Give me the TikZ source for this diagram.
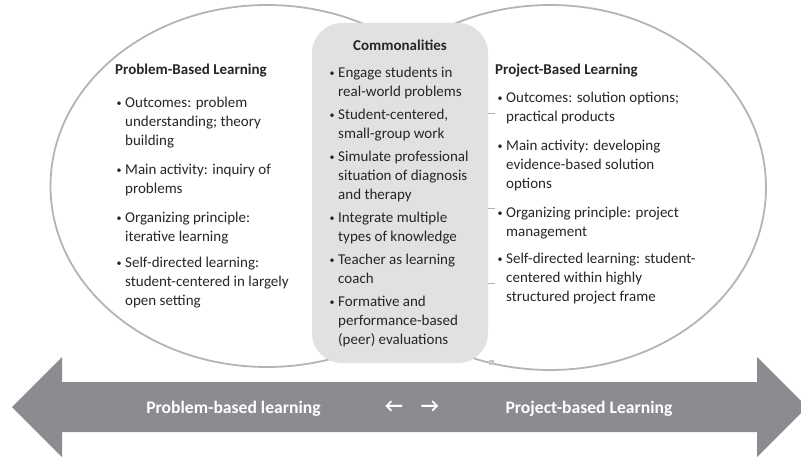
\documentclass[tikz,border=0pt]{standalone}
\usepackage{fontspec}
\setmainfont{Carlito}
\definecolor{ringgray}{HTML}{B4B4B7}
\definecolor{boxgray}{HTML}{E1E1E3}
\definecolor{arrowgray}{HTML}{8B8C90}
\definecolor{textdark}{HTML}{262626}
\definecolor{tickgray}{HTML}{B0B0B3}
\newcommand{\bul}{\makebox[9pt][l]{\hspace{0.3pt}\raisebox{1.6pt}{\fontsize{10}{10}\selectfont\textbullet}}}
\tikzset{
  ring/.style={draw=ringgray, line width=1.8pt},
  commonbox/.style={fill=boxgray, draw=none, rounded corners=30pt},
  coltext/.style={inner sep=0pt, anchor=base west, text=textdark, font=\fontsize{15}{19}\selectfont},
  title/.style={inner sep=0pt, text=textdark, font=\fontsize{15}{19}\selectfont\bfseries},
  bandtext/.style={inner sep=0pt, anchor=base, text=white, font=\fontsize{17.6}{20}\selectfont\bfseries},
  bandarrow/.style={inner sep=0pt, text=white, font=\fontsize{20}{20}\selectfont\bfseries},
  tick/.style={draw=tickgray, line width=0.8pt},
}
\begin{document}
\begin{tikzpicture}[x=1pt,y=-1pt]
\useasboundingbox (0,0) rectangle (801,457);
% ellipses
\draw[ring] (267,186) ellipse [x radius=216.5, y radius=181];
\draw[ring] (550,187.5) ellipse [x radius=216, y radius=182.5];
% small marks
\coordinate (t1a) at (486,113); \coordinate (t1b) at (495,113);
\coordinate (t2a) at (486,208); \coordinate (t2b) at (495,208);
\coordinate (t3a) at (486,283); \coordinate (t3b) at (495,283);
\draw[tick] (t1a) -- (t1b);
\draw[tick] (t2a) -- (t2b);
\draw[tick] (t3a) -- (t3b);
\fill[tickgray!70] (488.5,359.5) rectangle (493.5,364.5);
% commonalities box
\path[commonbox] (312,23) rectangle (488,363);
% band arrow
\fill[arrowgray] (12,407) -- (62,357) -- (62,382) -- (757,382) -- (757,357) -- (807,407) -- (757,457) -- (757,432) -- (62,432) -- (62,457) -- cycle;
% titles
\node[title, anchor=base west] (ltitle) at (115,75) {Problem-Based Learning};
\node[title, anchor=base west] (rtitle) at (495,75) {Project-Based Learning};
\node[title, anchor=base] (ctitle) at (400,51) {Commonalities};
% left column
\node[coltext] (lcol) at (116,108) {\begin{tabular}[t]{@{}l@{}l@{}}
\bul & Outcomes: problem\\
 & understanding; theory\\
 & building\\[10pt]
\bul & Main activity: inquiry of\\
 & problems\\[10pt]
\bul & Organizing principle:\\
 & iterative learning\\[7pt]
\bul & Self-directed learning:\\
 & student-centered in largely\\
 & open setting
\end{tabular}};
% center column
\node[coltext] (ccol) at (329,78) {\begin{tabular}[t]{@{}l@{}l@{}}
\bul & Engage students in\\
 & real-world problems\\[4pt]
\bul & Student-centered,\\
 & small-group work\\[4pt]
\bul & Simulate professional\\
 & situation of diagnosis\\
 & and therapy\\[4pt]
\bul & Integrate multiple\\
 & types of knowledge\\[4pt]
\bul & Teacher as learning\\
 & coach\\[4pt]
\bul & Formative and\\
 & performance-based\\
 & (peer) evaluations
\end{tabular}};
% right column
\node[coltext] (rcol) at (497,103) {\begin{tabular}[t]{@{}l@{}l@{}}
\bul & Outcomes: solution options;\\
 & practical products\\[10pt]
\bul & Main activity: developing\\
 & evidence-based solution\\
 & options\\[10pt]
\bul & Organizing principle: project\\
 & management\\[8pt]
\bul & Self-directed learning: student-\\
 & centered within highly\\
 & structured project frame
\end{tabular}};
% band texts
\node[bandtext] (bl) at (233.5,413) {Problem-based learning};
\node[bandtext] (br) at (589,413) {Project-based Learning};
\node[bandarrow] (al) at (394,407) {←};
\node[bandarrow] (ar) at (430,407) {→};
\end{tikzpicture}
\end{document}
